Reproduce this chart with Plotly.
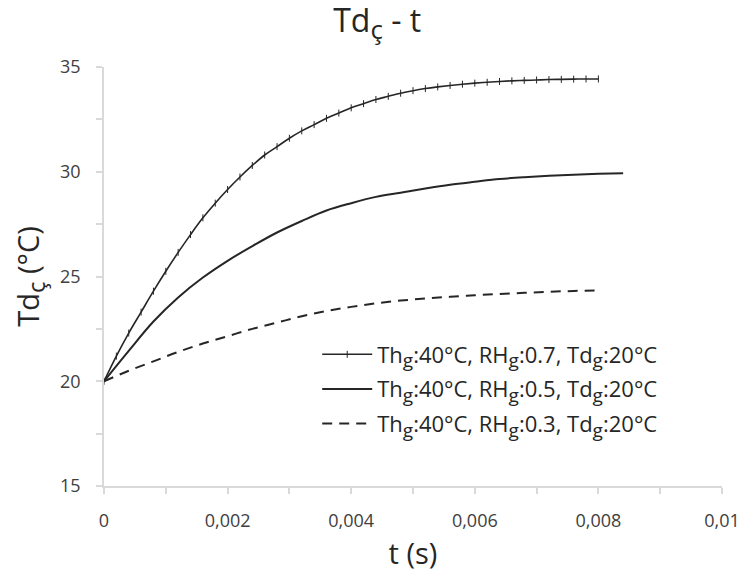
import plotly.graph_objects as go

# Series 1: RHg 0.7 (with tick markers), sampled every 0.0002 s
t_07 = [i * 0.0002 for i in range(41)]
td_07 = [20.0, 21.2, 22.3, 23.3, 24.3, 25.25, 26.15, 27.0, 27.8, 28.5,
         29.15, 29.75, 30.3, 30.8, 31.2, 31.6, 31.95, 32.25, 32.55, 32.8,
         33.05, 33.25, 33.45, 33.6, 33.75, 33.87, 33.97, 34.05, 34.12, 34.18,
         34.23, 34.27, 34.31, 34.34, 34.36, 34.38, 34.40, 34.41, 34.42, 34.43,
         34.43]

# Series 2: RHg 0.5 (solid), every 0.0004 s
t_05 = [i * 0.0004 for i in range(22)]
td_05 = [20.0, 21.45, 22.85, 24.0, 24.95, 25.75, 26.45, 27.1, 27.65, 28.15,
         28.5, 28.8, 29.0, 29.2, 29.38, 29.52, 29.65, 29.74, 29.81, 29.86,
         29.9, 29.93]

# Series 3: RHg 0.3 (dashed), every 0.0004 s
t_03 = [i * 0.0004 for i in range(21)]
td_03 = [20.0, 20.5, 20.95, 21.4, 21.8, 22.15, 22.5, 22.8, 23.1, 23.35,
         23.55, 23.72, 23.85, 23.95, 24.03, 24.1, 24.17, 24.22, 24.27, 24.31,
         24.34]

def sub(s, px):
    return "<sub><span style='font-size:%dpx'>%s</span></sub>" % (px, s)

rh_values = ["0.7", "0.5", "0.3"]
names = ["Th%s:40°C, RH%s:%s, Td%s:20°C" % (sub("g", 19), sub("g", 19), rh, sub("g", 19))
         for rh in rh_values]

line_col = "#262626"
font_family = "Open Sans"

fig = go.Figure()
fig.add_trace(go.Scatter(
    x=t_07, y=td_07, name=names[0], mode="lines+markers", legendgroup="a",
    line=dict(color=line_col, width=1.6, shape="spline"),
    marker=dict(symbol="line-ns-open", size=5, line=dict(color=line_col, width=1))))
fig.add_trace(go.Scatter(
    x=t_05, y=td_05, name=names[1], mode="lines", legendgroup="b",
    line=dict(color=line_col, width=2, shape="spline")))
fig.add_trace(go.Scatter(
    x=t_03, y=td_03, name=names[2], mode="lines", legendgroup="c",
    line=dict(color=line_col, width=2, shape="spline", dash="10px,7px")))

axis_col = "#d9d9d9"
tick_font = dict(family=font_family, size=18, color="#404040")

fig.update_layout(
    width=755, height=583,
    margin=dict(l=96, r=41, t=59, b=105),
    paper_bgcolor="white", plot_bgcolor="white",
    separators=",.",
    font=dict(family=font_family, color="#262626"),
    title=dict(text="Td" + sub("ç", 26) + " - t", x=0.489, xanchor="center", xref="container",
               y=0.978, yanchor="middle", yref="container",
               font=dict(family=font_family, size=32, color="#262626")),
    showlegend=True,
    legend=dict(x=0.345, xanchor="left", y=0.364, yanchor="top",
                font=dict(family=font_family, size=22, color="#262626"),
                bgcolor="rgba(0,0,0,0)", tracegroupgap=3, itemwidth=50),
    xaxis=dict(range=[0, 0.01], dtick=0.002, tick0=0, showgrid=False, zeroline=False,
               showline=True, linecolor=axis_col, linewidth=1.5,
               ticks="outside", ticklen=6, tickcolor=axis_col, tickwidth=1.5,
               minor=dict(dtick=0.001, ticks="outside", ticklen=6, tickcolor=axis_col, tickwidth=1.5),
               tickfont=tick_font, ticklabelstandoff=12,
               title=dict(text="t (s)", font=dict(family=font_family, size=29, color="#262626"), standoff=12)),
    yaxis=dict(range=[15, 35], dtick=5, tick0=15, showgrid=False, zeroline=False,
               showline=True, linecolor=axis_col, linewidth=1.5,
               ticks="outside", ticklen=6, tickcolor=axis_col, tickwidth=1.5,
               minor=dict(dtick=2.5, ticks="outside", ticklen=6, tickcolor=axis_col, tickwidth=1.5),
               tickfont=tick_font, ticklabelstandoff=12,
               title=dict(text="Td" + sub("ç", 24) + " (°C)", font=dict(family=font_family, size=29, color="#262626"), standoff=12)),
)

fig.write_html("out.html")
